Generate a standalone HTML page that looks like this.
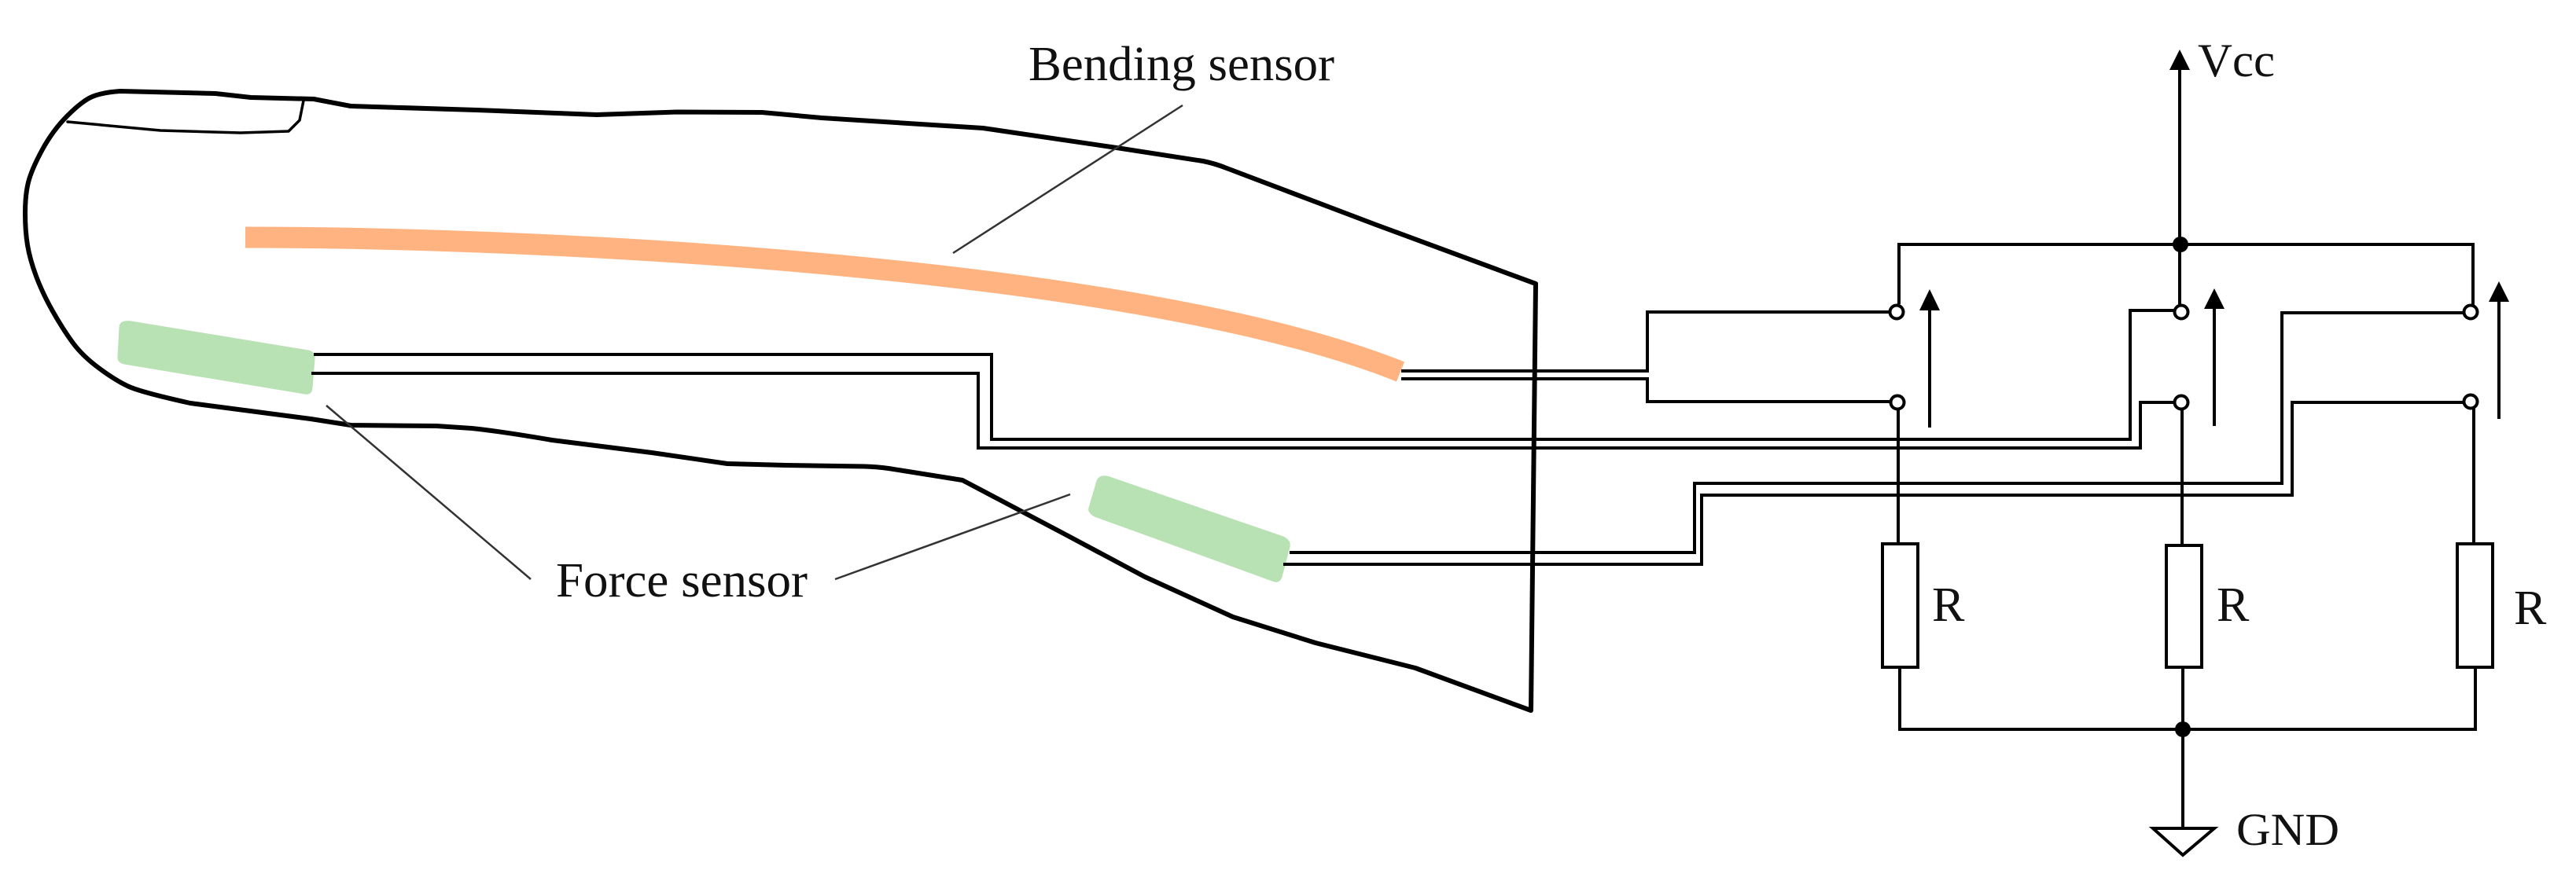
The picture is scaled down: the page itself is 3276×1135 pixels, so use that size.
<!DOCTYPE html>
<html><head><meta charset="utf-8"><style>
html,body{margin:0;padding:0;background:#fff}
svg{display:block}
text{font-family:"Liberation Serif",serif;fill:#111}
</style></head><body>
<svg xmlns="http://www.w3.org/2000/svg" width="3276" height="1135" viewBox="0 0 3276 1135">
<rect width="3276" height="1135" fill="#fff"/>
<!-- sensors -->
<path d="M312 302 C700 302 1450 340 1781 473" fill="none" stroke="#FFB380" stroke-width="27"/>
<path d="M167 409 L392 446 Q401 448 400 456 L397 494 Q396 503 387 501 L158 463 Q149 461 150 453 L152 416 Q153 407 167 409 Z" fill="#B9E2B4" stroke="#B9E2B4" stroke-width="1"/>
<path d="M1414 608 L1632 683 Q1642 688 1640 696 L1630 734 Q1627 743 1618 739 L1392 657 Q1383 652 1385 646 L1395 612 Q1399 602 1414 608 Z" fill="#B9E2B4" stroke="#B9E2B4" stroke-width="1"/>
<!-- finger outline -->
<g fill="none" stroke="#000" stroke-linejoin="round" stroke-linecap="round">
<path stroke-width="6" d="M153 116 L274 119 L319 124 L399 126 Q425 131 446 135 L606 140 L759 146 L861 142.5 L969 143 L1045 150 L1250 163 L1420 188 L1530 205 Q1545 208 1560 214 L1750 286 L1953 361 L1947 904 L1800 850 L1673 818 L1568 785 L1456 734 L1351 678 L1224 611 L1130 596 Q1116 594 1100 593.5 L1000 592 L925 590 L829 576 L702 560 Q638 549 600 545 L555 542 L446 541 L395 533 L242 513 Q179 499 163 491.5 Q147 484 126 468.5 Q105 453 92.5 436 Q80 419 67 396 Q54 373 46 351.5 Q38 330 35 312 Q32 294 32 271 Q32 248 36 232 Q40 216 53.5 191 Q67 166 86 147 Q105 128 118 122.7 Q131 117.5 153 116 Z"/>
<path stroke-width="3.5" d="M86 155 L204 166 L306 169 L367 167 L381 153 L386 128"/>
</g>
<!-- leaders -->
<g fill="none" stroke="#333" stroke-width="2.5">
<path d="M1504 134 L1212 322"/>
<path d="M415 516 L675 737"/>
<path d="M1361 629 L1062 737"/>
</g>
<!-- wires -->
<g fill="none" stroke="#000" stroke-width="4" stroke-linejoin="miter">
<path d="M399 451 H1261 V559 H2709 V395 H2773"/>
<path d="M396 475 H1244 V570 H2722 V512 H2774"/>
<path d="M1782 472 H2095 V397 H2411"/>
<path d="M1782 482 H2095 V511 H2412"/>
<path d="M1640 703 H2155 V615 H2902 V398 H3142"/>
<path d="M1632 718 H2164 V630 H2915 V512 H3142"/>
<!-- rails -->
<path d="M2415 387 V311 H3145 V388"/>
<path d="M2772 85 V387"/>
<path d="M2414 512 V692"/>
<path d="M2775 512 V694"/>
<path d="M3146 512 V692"/>
<path d="M2416 849 V928 H3148 V849"/>
<path d="M2776 849 V1054"/>
<!-- arrows -->
<path d="M2454 393 V544"/>
<path d="M2816 391 V542"/>
<path d="M3178 382 V533"/>
<!-- resistors -->
<rect x="2394" y="692" width="45" height="157" fill="#fff"/>
<rect x="2755" y="694" width="45" height="155" fill="#fff"/>
<rect x="3125" y="692" width="45" height="157" fill="#fff"/>
<!-- ground -->
<path d="M2738 1054 H2816 L2776 1088 Z" fill="#fff"/>
</g>
<!-- arrow heads and dots -->
<g fill="#000">
<path d="M2772 63 L2785 89 L2759 89 Z"/>
<path d="M2454 368 L2467 395 L2441 395 Z"/>
<path d="M2816 367 L2829 393 L2803 393 Z"/>
<path d="M3178 358 L3191 384 L3165 384 Z"/>
<circle cx="2773" cy="311" r="10"/>
<circle cx="2776" cy="928" r="10"/>
</g>
<!-- terminals -->
<g fill="#fff" stroke="#000" stroke-width="4">
<circle cx="2412" cy="397" r="8.5"/>
<circle cx="2413" cy="512" r="8.5"/>
<circle cx="2774" cy="397" r="8.5"/>
<circle cx="2774" cy="512" r="8.5"/>
<circle cx="3142" cy="397" r="8.5"/>
<circle cx="3142" cy="511" r="8.5"/>
</g>
<!-- labels -->
<text x="1308" y="102" font-size="62" textLength="389" lengthAdjust="spacingAndGlyphs">Bending sensor</text>
<text x="707" y="759" font-size="62" textLength="320" lengthAdjust="spacingAndGlyphs">Force sensor</text>
<text x="2795" y="97" font-size="60" textLength="98" lengthAdjust="spacingAndGlyphs">Vcc</text>
<text x="2844" y="1075" font-size="58" textLength="131" lengthAdjust="spacingAndGlyphs">GND</text>
<text x="2457" y="790" font-size="62">R</text>
<text x="2819" y="790" font-size="62">R</text>
<text x="3197" y="794" font-size="62">R</text>
</svg>
</body></html>
